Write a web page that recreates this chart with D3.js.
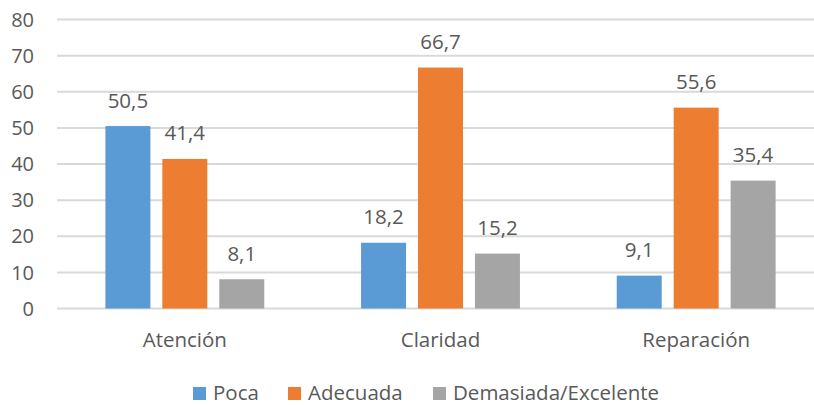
<!DOCTYPE html>
<html>
<head>
<meta charset="utf-8">
<script src="https://cdn.jsdelivr.net/npm/d3@7"></script>
<style>
  body { margin: 0; background: #fff; }
  text { font-family: "Open Sans", sans-serif; fill: #595959; }
</style>
</head>
<body>
<div id="chart"></div>
<script>
  const categories = ["Atención", "Claridad", "Reparación"];
  const seriesNames = ["Poca", "Adecuada", "Demasiada/Excelente"];
  const poca = [50.5, 18.2, 9.1];
  const adecuada = [41.4, 66.7, 55.6];
  const demasiada = [8.1, 15.2, 35.4];
  const yTicks = [0, 10, 20, 30, 40, 50, 60, 70, 80];
  const colors = ["#5b9bd5", "#ed7d31", "#a5a5a5"];

  const seriesValues = [poca, adecuada, demasiada];
  const width = 814, height = 405;

  const svg = d3.select("#chart").append("svg")
    .attr("width", width).attr("height", height);

  const y = d3.scaleLinear().domain([0, 80]).range([308.5, 19.5]);
  const x0 = d3.scaleBand().domain(categories).range([57, 824]).paddingInner(0).paddingOuter(0);
  const x1 = d3.scaleBand().domain(seriesNames).range([0, x0.bandwidth()]).paddingInner(0.21).paddingOuter(0.85);

  // gridlines
  svg.append("g").selectAll("line").data(yTicks).join("line")
    .attr("x1", 57).attr("x2", width)
    .attr("y1", d => y(d)).attr("y2", d => y(d))
    .attr("stroke", "#d9d9d9").attr("stroke-width", 2);

  // y labels
  svg.append("g").selectAll("text").data(yTicks).join("text")
    .attr("x", 34).attr("y", d => y(d)).attr("dy", "0.36em")
    .attr("text-anchor", "end").style("font-size", "20px")
    .text(d => d);

  // bars
  const groups = svg.append("g").selectAll("g").data(categories).join("g")
    .attr("transform", d => `translate(${x0(d)},0)`);

  groups.selectAll("rect")
    .data((c, i) => seriesNames.map((s, j) => ({ s, v: seriesValues[j][i], j })))
    .join("rect")
    .attr("x", d => x1(d.s)).attr("width", x1.bandwidth())
    .attr("y", d => y(d.v)).attr("height", d => y(0) - y(d.v))
    .attr("fill", d => colors[d.j]);

  groups.selectAll("text")
    .data((c, i) => seriesNames.map((s, j) => ({ s, v: seriesValues[j][i], j })))
    .join("text")
    .attr("x", d => x1(d.s) + x1.bandwidth() / 2)
    .attr("y", d => y(d.v) - 18.5)
    .attr("text-anchor", "middle").style("font-size", "20.5px")
    .text(d => d3.format(".1f")(d.v).replace(".", ","));

  // category labels
  svg.append("g").selectAll("text").data(categories).join("text")
    .attr("x", d => x0(d) + x0.bandwidth() / 2).attr("y", 347)
    .attr("text-anchor", "middle").style("font-size", "20.5px")
    .text(d => d);

  // legend
  const legendX = [193, 288, 433];
  const legend = svg.append("g").selectAll("g").data(seriesNames).join("g")
    .attr("transform", (d, i) => `translate(${legendX[i]},387)`);
  legend.append("rect").attr("width", 13).attr("height", 13).attr("fill", (d, i) => colors[i]);
  legend.append("text").attr("x", 20).attr("y", 13).style("font-size", "20.5px").text(d => d);
</script>
</body>
</html>
